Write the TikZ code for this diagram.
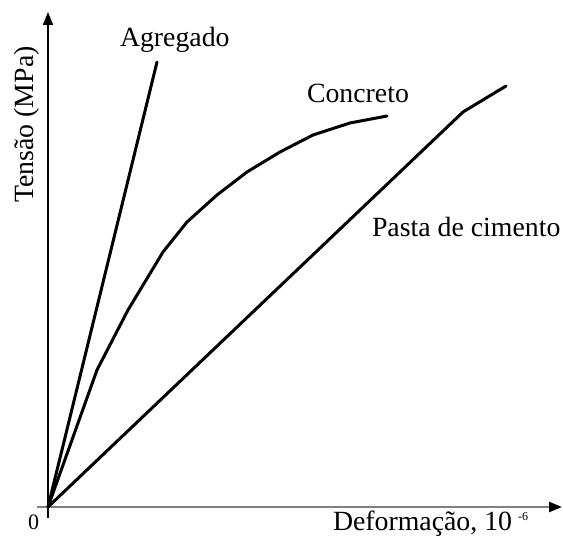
\documentclass[tikz,border=0pt]{standalone}
\usepackage{fontspec}
\setmainfont{Liberation Serif}
\usetikzlibrary{arrows.meta}
\begin{document}
\begin{tikzpicture}[x=1pt,y=-1pt,
  lbl/.style={inner sep=0pt,outer sep=0pt,font=\fontsize{27.8}{33}\selectfont},
  curve/.style={line width=3pt,line join=round,line cap=round},
  tipA/.style={-{Triangle[length=13pt,width=10pt,color=black]}}]
\useasboundingbox (0,0) rectangle (563,537);
% axes
\coordinate (O) at (48,507);
\coordinate (Ybot) at (48,518);
\coordinate (Ytop) at (48,12);
\coordinate (Xl) at (37,507);
\coordinate (Xr) at (562,507);
\draw[line width=1.5pt,tipA] (Ybot) -- (Ytop);
\draw[draw=black!50,line width=2.5pt,tipA] (Xl) -- (Xr);
% curves
\coordinate (Aend) at (157,62);
\coordinate (Cend) at (387,116);
\coordinate (Pmid) at (463,112);
\coordinate (Pend) at (506,86);
\draw[curve] (O) -- (Aend);
\draw[curve] (O) -- (97,370) -- (128,310) -- (163,252) -- (187,222) -- (217,195)
  -- (247,172) -- (280,152) -- (313,135) -- (350,123) -- (Cend);
\draw[curve] (O) -- (Pmid) -- (Pend);
% labels
\node[lbl,anchor=base west] (agr) at (120,47) {Agregado};
\node[lbl,anchor=base west] (con) at (307,103) {Concreto};
\node[lbl,anchor=base west] (pas) at (372,237) {Pasta de cimento};
\node[lbl,anchor=base west] (xl) at (333,531) {Deformação, 10};
\node[inner sep=0pt,anchor=base west,font=\fontsize{12}{14}\selectfont] (exp) at (518,521) {-6};
\node[inner sep=0pt,anchor=base west,font=\fontsize{22}{26}\selectfont] (zero) at (28,530) {0};
\node[lbl,anchor=base,rotate=90] (yl) at (33,124.5) {Tensão (MPa)};
\end{tikzpicture}
\end{document}
